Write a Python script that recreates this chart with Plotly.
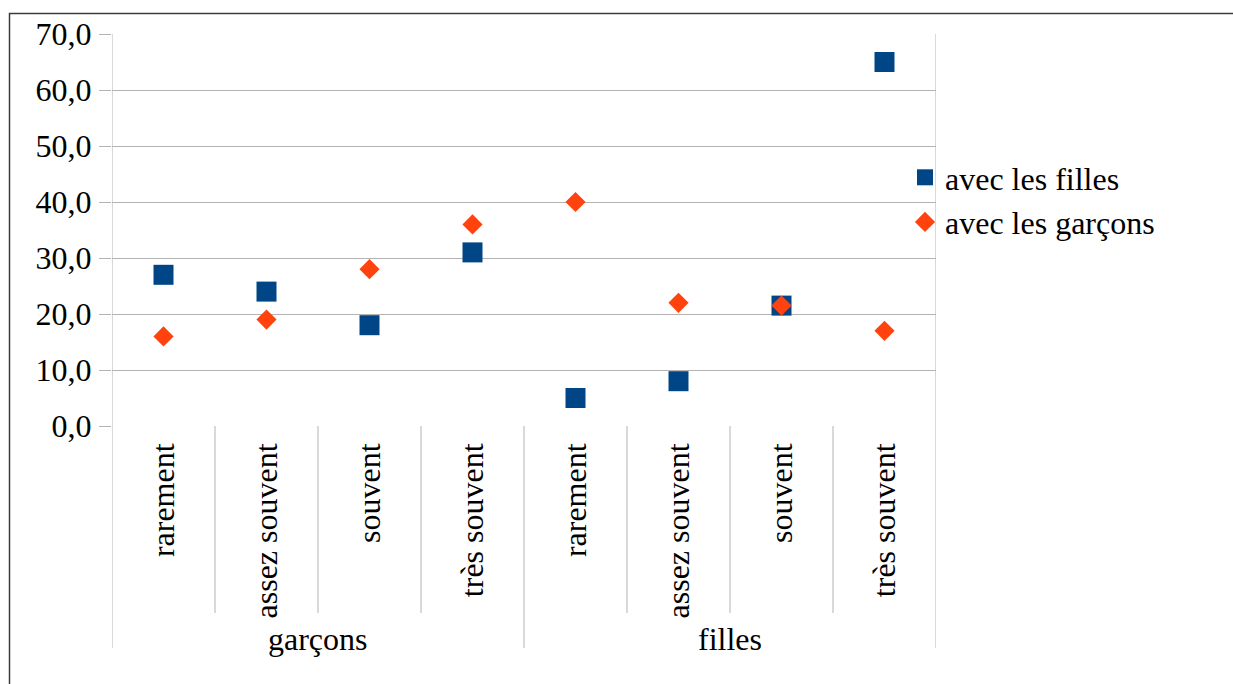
import plotly.graph_objects as go

groups = ["garçons", "filles"]
frequencies = ["rarement", "assez souvent", "souvent", "très souvent"]
tick_labels = [f for g in groups for f in frequencies]
avec_les_filles = [27.0, 24.0, 18.0, 31.0, 5.0, 8.0, 21.5, 65.0]
avec_les_garcons = [16.0, 19.0, 28.0, 36.0, 40.0, 22.0, 21.5, 17.0]
y_ticks = [0, 10, 20, 30, 40, 50, 60, 70]

x_idx = list(range(len(tick_labels)))
FONT = "Liberation Serif, Times New Roman, serif"
GRID = "#b3b3b3"

W, H = 1233, 684
L, R, T, B = 112, 297, 34, 258
pw, ph = W - L - R, H - T - B


def py(p):
    return (H - B - p) / ph


def px(p):
    return (p - L) / pw


fig = go.Figure()
fig.add_trace(go.Scatter(
    x=x_idx, y=avec_les_filles, mode="markers", name="avec les filles",
    marker=dict(symbol="square", size=20, color="#004586"),
))
fig.add_trace(go.Scatter(
    x=x_idx, y=avec_les_garcons, mode="markers", name="avec les garçons",
    marker=dict(symbol="diamond", size=15.5, color="#ff420e"),
))

shapes = []
n = len(tick_labels)
per = len(frequencies)
for i in range(n + 1):
    xb = i - 0.5
    if i == 0 or i == n:
        y0, y1 = py(648), 1.0
    elif i % per == 0:
        y0, y1 = py(648), 0.0
    else:
        y0, y1 = py(613), 0.0
    shapes.append(dict(type="line", xref="x", yref="paper", x0=xb, x1=xb,
                       y0=y0, y1=y1, line=dict(color=GRID, width=1)))
# outer chart border
shapes.append(dict(type="rect", xref="paper", yref="paper",
                   x0=px(9.5), x1=px(1245), y0=py(13.5), y1=py(700),
                   line=dict(color="#3c3c3c", width=1.5), layer="above"))

annotations = []
for gi, g in enumerate(groups):
    annotations.append(dict(
        x=gi * per + (per - 1) / 2, y=py(639), xref="x", yref="paper",
        text=g, showarrow=False, xanchor="center", yanchor="middle",
        font=dict(family=FONT, size=32, color="black")))

fig.update_layout(
    width=W, height=H,
    margin=dict(l=L, r=R, t=T, b=B, pad=0),
    paper_bgcolor="white", plot_bgcolor="white",
    separators=", ",
    font=dict(family=FONT, size=32, color="black"),
    showlegend=True,
    legend=dict(x=px(905), y=py(150), xanchor="left", yanchor="top",
                font=dict(family=FONT, size=32, color="black"),
                bgcolor="rgba(0,0,0,0)", tracegroupgap=0),
    shapes=shapes,
    annotations=annotations,
    xaxis=dict(
        range=[-0.5, n - 0.5], tickmode="array", tickvals=x_idx,
        ticktext=tick_labels, tickangle=-90, showgrid=False, zeroline=False,
        showline=False, ticks="", ticklabelstandoff=10,
        tickfont=dict(family=FONT, size=32, color="black"),
    ),
    yaxis=dict(
        range=[0, 70], tickmode="array", tickvals=y_ticks,
        tickformat=".1f", showgrid=True, gridcolor=GRID, gridwidth=1,
        zeroline=False, showline=False, ticks="outside", ticklen=12,
        tickcolor=GRID, tickwidth=1, ticklabelstandoff=1,
        tickfont=dict(family=FONT, size=32, color="black"),
    ),
)

fig.write_html(
    "out.html",
    config={"displayModeBar": False},
    post_script="document.body.style.margin='0';document.body.style.padding='0';",
)
